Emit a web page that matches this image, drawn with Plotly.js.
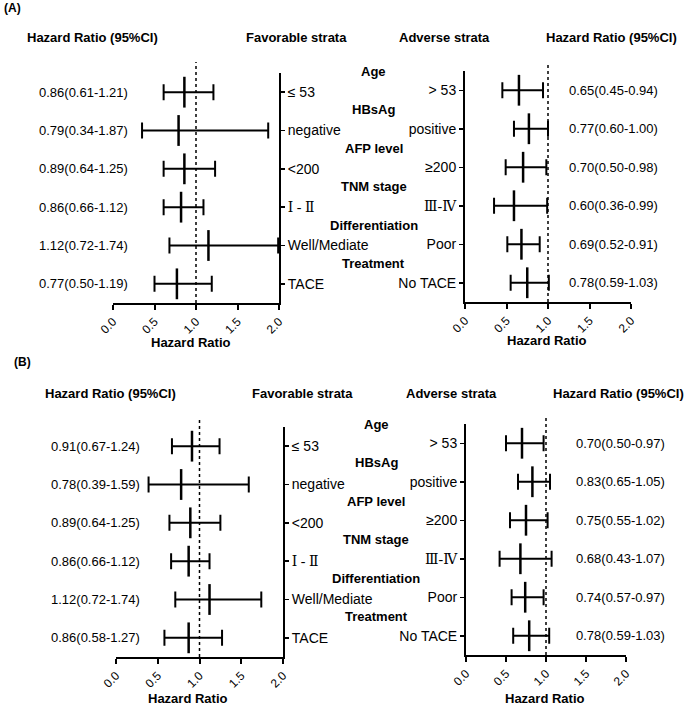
<!DOCTYPE html>
<html>
<head>
<meta charset="utf-8">
<script src="https://cdn.plot.ly/plotly-3.0.1.min.js"></script>
<style>html,body{margin:0;padding:0;background:#fff;}#chart{width:685px;height:705px;}</style>
</head>
<body>
<div id="chart"></div>
<script>
// ---------- data ----------
const favLabels = ['≤ 53', 'negative', '<200', '<span style="font-family:\'Liberation Serif\',\'DejaVu Serif\',serif">Ⅰ - Ⅱ</span>', 'Well/Mediate', 'TACE'];
const advLabels = ['> 53', 'positive', '≥200', '<span style="font-family:\'Liberation Serif\',\'DejaVu Serif\',serif">Ⅲ-Ⅳ</span>', 'Poor', 'No TACE'];
const groups = ['Age', 'HBsAg', 'AFP level', 'TNM stage', 'Differentiation', 'Treatment'];
const xTickVals = [0, 0.5, 1, 1.5, 2];
const xTickText = ['0.0', '0.5', '1.0', '1.5', '2.0'];

// Panel A – favorable strata
const aFavHR = [0.86, 0.79, 0.86, 0.82, 1.15, 0.77];
const aFavLo = [0.61, 0.35, 0.61, 0.61, 0.68, 0.50];
const aFavHi = [1.21, 1.87, 1.23, 1.09, 1.99, 1.19];
const aFavText = ['0.86(0.61-1.21)', '0.79(0.34-1.87)', '0.89(0.64-1.25)', '0.86(0.66-1.12)', '1.12(0.72-1.74)', '0.77(0.50-1.19)'];
// Panel A – adverse strata
const aAdvHR = [0.65, 0.77, 0.70, 0.59, 0.68, 0.75];
const aAdvLo = [0.45, 0.59, 0.49, 0.35, 0.51, 0.55];
const aAdvHi = [0.94, 1.00, 0.98, 0.99, 0.90, 1.01];
const aAdvText = ['0.65(0.45-0.94)', '0.77(0.60-1.00)', '0.70(0.50-0.98)', '0.60(0.36-0.99)', '0.69(0.52-0.91)', '0.78(0.59-1.03)'];
// Panel B – favorable strata
const bFavHR = [0.91, 0.78, 0.89, 0.87, 1.12, 0.87];
const bFavLo = [0.67, 0.39, 0.64, 0.66, 0.71, 0.58];
const bFavHi = [1.24, 1.59, 1.25, 1.12, 1.74, 1.27];
const bFavText = ['0.91(0.67-1.24)', '0.78(0.39-1.59)', '0.89(0.64-1.25)', '0.86(0.66-1.12)', '1.12(0.72-1.74)', '0.86(0.58-1.27)'];
// Panel B – adverse strata
const bAdvHR = [0.70, 0.83, 0.75, 0.68, 0.74, 0.79];
const bAdvLo = [0.50, 0.65, 0.55, 0.42, 0.57, 0.59];
const bAdvHi = [0.97, 1.05, 1.02, 1.07, 0.97, 1.04];
const bAdvText = ['0.70(0.50-0.97)', '0.83(0.65-1.05)', '0.75(0.55-1.02)', '0.68(0.43-1.07)', '0.74(0.57-0.97)', '0.78(0.59-1.03)'];

// ---------- layout helpers ----------
const W = 685, H = 705;
const px = v => v / W;
const py = v => 1 - v / H;
const FONT = 'Liberation Sans, Arial, sans-serif';
const rowIdx = favLabels.map((_, i) => i);

function trace(hr, lo, hi, xa, ya) {
  return {
    type: 'scatter', mode: 'markers', x: hr, y: rowIdx, xaxis: xa, yaxis: ya,
    cliponaxis: false, hoverinfo: 'skip', showlegend: false,
    marker: {symbol: 'line-ns-open', size: 22, color: '#000', line: {width: 2.5, color: '#000'}},
    error_x: {type: 'data', symmetric: false,
      array: hi.map((h, i) => h - hr[i]), arrayminus: lo.map((l, i) => hr[i] - l),
      width: 8, thickness: 2, color: '#000'}
  };
}

function xAxis(d0, d1, anchor) {
  return {domain: [px(d0), px(d1)], anchor: anchor, range: [0, 2], tickvals: xTickVals, ticktext: xTickText,
    tickangle: -45, ticks: 'outside', ticklen: 5, tickwidth: 2, tickcolor: '#000',
    showline: true, linewidth: 2, linecolor: '#000', showgrid: false, zeroline: false,
    tickfont: {family: FONT, size: 12, color: '#000'}, fixedrange: true};
}
function yAxis(top, bottom, anchor, side, labels) {
  return {domain: [py(bottom), py(top)], anchor: anchor, side: side, range: [5.5, -0.5],
    tickvals: rowIdx, ticktext: labels, ticks: 'outside', ticklen: 4, tickwidth: 1.5, tickcolor: '#000',
    showline: true, linewidth: 2, linecolor: '#000', showgrid: false, zeroline: false,
    tickfont: {family: FONT, size: 14, color: '#000'}, fixedrange: true};
}

const data = [
  trace(aFavHR, aFavLo, aFavHi, 'x', 'y'),
  trace(aAdvHR, aAdvLo, aAdvHi, 'x2', 'y2'),
  trace(bFavHR, bFavLo, bFavHi, 'x3', 'y3'),
  trace(bAdvHR, bAdvLo, bAdvHi, 'x4', 'y4')
];

const annotations = [];
function txt(text, x, y, size, bold, extra) {
  annotations.push(Object.assign({
    text: bold ? '<b>' + text + '</b>' : text, xref: 'paper', yref: 'paper', x: px(x), y: py(y),
    xanchor: 'center', yanchor: 'middle', showarrow: false,
    font: {family: FONT, size: size, color: '#000'}
  }, extra || {}));
}
function hrLabels(texts, xc, yref) {
  texts.forEach((t, i) => annotations.push({text: t, xref: 'paper', yref: yref, x: px(xc), y: i,
    xanchor: 'center', yanchor: 'middle', showarrow: false, font: {family: FONT, size: 13, color: '#000'}}));
}
function groupLabels(xc, yref) {
  groups.forEach((g, i) => annotations.push({text: '<b>' + g + '</b>', xref: 'paper', yref: yref, x: px(xc), y: i - 0.5,
    xanchor: 'center', yanchor: 'middle', showarrow: false, font: {family: FONT, size: 13, color: '#000'}}));
}

// Panel A
txt('(A)', 12, 8, 12, true);
txt('Hazard Ratio (95%CI)', 92, 38, 13, true);
txt('Favorable strata', 296, 38, 13, true);
txt('Adverse strata', 444, 38, 13, true);
txt('Hazard Ratio (95%CI)', 611, 38, 13, true);
hrLabels(aFavText, 83, 'y');
hrLabels(aAdvText, 613, 'y2');
groupLabels(374, 'y2');
txt('Hazard Ratio', 191, 343, 13, true);
txt('Hazard Ratio', 547, 340, 13, true);

// Panel B
txt('(B)', 22, 362, 12, true);
txt('Hazard Ratio (95%CI)', 110, 393, 13, true);
txt('Favorable strata', 302, 393, 13, true);
txt('Adverse strata', 451, 393, 13, true);
txt('Hazard Ratio (95%CI)', 618, 393, 13, true);
hrLabels(bFavText, 95, 'y3');
hrLabels(bAdvText, 620, 'y4');
groupLabels(376, 'y4');
txt('Hazard Ratio', 188, 698, 13, true);
txt('Hazard Ratio', 545, 698, 13, true);

function refLine(xa, top, bottom) {
  return {type: 'line', xref: xa, yref: 'paper', x0: 1, x1: 1, y0: py(bottom), y1: py(top),
    line: {color: '#000', width: 1.5, dash: 'dot'}};
}

const layout = {
  width: W, height: H, margin: {l: 0, r: 0, t: 0, b: 0},
  paper_bgcolor: '#fff', plot_bgcolor: 'rgba(0,0,0,0)', showlegend: false,
  font: {family: FONT, color: '#000'},
  xaxis: xAxis(113, 279, 'y'),
  yaxis: yAxis(73, 303, 'x', 'right', favLabels),
  xaxis2: xAxis(465, 631, 'y2'),
  yaxis2: yAxis(71, 302, 'x2', 'left', advLabels),
  xaxis3: xAxis(116, 283, 'y3'),
  yaxis3: yAxis(427, 657, 'x3', 'right', favLabels),
  xaxis4: xAxis(466, 626, 'y4'),
  yaxis4: yAxis(424, 655, 'x4', 'left', advLabels),
  shapes: [refLine('x', 62, 303), refLine('x2', 62, 302), refLine('x3', 417, 657), refLine('x4', 418, 655)],
  annotations: annotations
};

Plotly.newPlot('chart', data, layout, {staticPlot: true, displayModeBar: false});
</script>
</body>
</html>
